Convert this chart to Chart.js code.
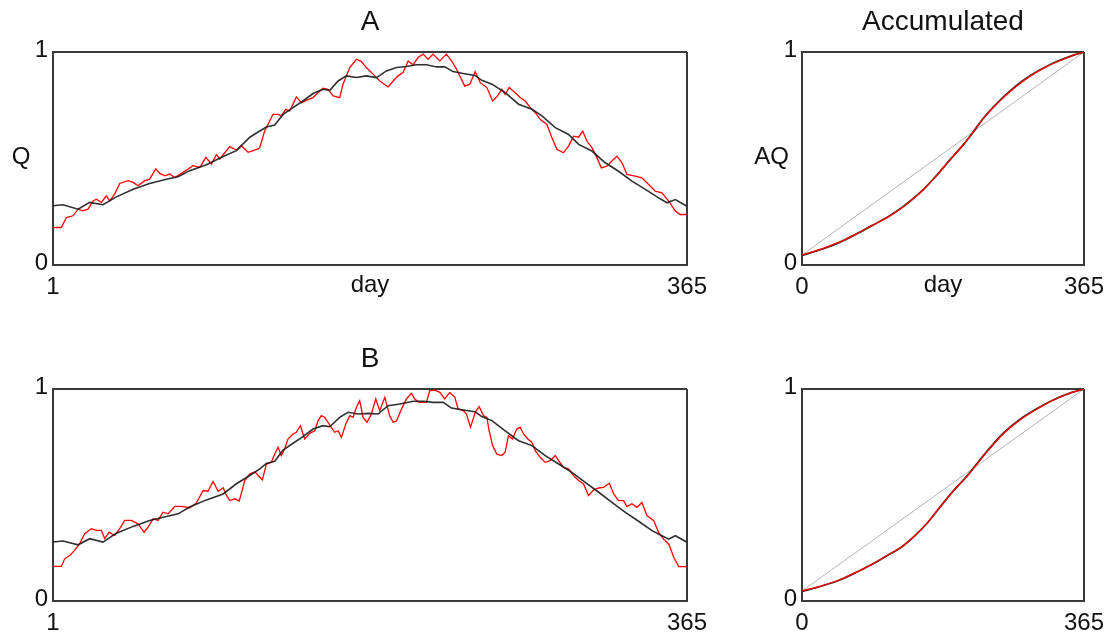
<!DOCTYPE html>
<html><head><meta charset="utf-8">
<script src="https://cdn.jsdelivr.net/npm/chart.js@4/dist/chart.umd.min.js"></script>
<style>
html,body{margin:0;padding:0;background:#fff;overflow:hidden;width:1112px;height:633px;}
canvas{position:absolute;}
</style></head><body>
<canvas id="cA" width="740" height="320" style="left:0;top:0"></canvas>
<canvas id="cAcc" width="372" height="320" style="left:740px;top:0"></canvas>
<canvas id="cB" width="740" height="303" style="left:0;top:330px"></canvas>
<canvas id="cBcc" width="372" height="303" style="left:740px;top:330px"></canvas>
<script>
// ---------- data ----------
const xTicksDay = [1, 365];
const xTicksAcc = [0, 365];
const yTicks = [0, 1];

const aRedDays = [1,5.8,8.7,12.5,15.4,18.2,21.1,24,25.9,28.8,31.6,33.6,36.4,39.3,44.1,47,49.8,53.7,56.5,60,62.3,65.2,68,70.9,75.7,81.4,85.3,88.7,92,94.8,96.8,102.5,106.3,109.2,113,118.8,
 119.7,122.5,124.4,127.3,130.2,132.1,134.6,136.9,140.7,143.6,146.5,150.3,153.2,156,158.9,161.8,165.6,167.5,171.4,175.2,178.1,180.9,184.8,188.6,193.4,196.3,199.1,202,204.9,207.7,210.6,213.5,216.4,219.2,223.1,226.9,229.8,232.7,235.5,237.4,240.3,
 243.4,246.3,250.1,253.4,255.8,258.7,260.6,262.9,266.4,269.2,272.1,275,277.9,280.7,284.6,287.4,290.3,294.1,297,299.9,302.8,305.1,307.5,310.4,313.3,315.8,319,321.9,324.8,327.7,330.5,335.3,339.1,343,346.8,350.6,354.5,358.3,361,365];
const aRedQ = [0.176,0.176,0.223,0.231,0.262,0.254,0.262,0.301,0.309,0.294,0.325,0.301,0.333,0.383,0.396,0.388,0.372,0.396,0.403,0.451,0.43,0.419,0.427,0.411,0.435,0.466,0.458,0.505,0.474,0.518,0.498,0.556,0.54,0.56,0.529,0.545,
 0.551,0.629,0.66,0.707,0.707,0.70,0.731,0.723,0.789,0.762,0.773,0.786,0.809,0.83,0.825,0.794,0.786,0.849,0.927,0.966,0.955,0.927,0.896,0.864,0.836,0.864,0.888,0.904,0.958,0.94,0.974,0.99,0.966,0.99,0.958,0.99,0.958,0.919,0.872,0.84,0.849,
 0.908,0.856,0.833,0.77,0.789,0.825,0.80,0.833,0.809,0.786,0.77,0.739,0.715,0.684,0.66,0.598,0.543,0.527,0.558,0.605,0.60,0.629,0.582,0.551,0.504,0.456,0.464,0.488,0.511,0.48,0.425,0.417,0.409,0.378,0.347,0.339,0.30,0.253,0.237,0.237];

const aBlackDays = [1,6.7,15.4,22.1,29.7,37.4,47,56.5,66.1,72.8,79.5,89.1,98.7,106.3,114,119.7,123.5,128.3,133.1,138.8,144.5,150.3,156,159.9,164.7,169.4,175.2,180.9,186.7,192.4,198.2,203.9,209.7,215.4,221.2,225.9,230.7,236.5,243.2,247.2,253,260.6,268.3,276,281.7,289.4,297,302.8,310.4,318.1,325.7,333.4,341.1,348.7,353.5,358.3,365];
const aBlackQ = [0.278,0.283,0.262,0.294,0.283,0.32,0.356,0.383,0.403,0.414,0.443,0.471,0.509,0.537,0.60,0.629,0.648,0.657,0.707,0.739,0.77,0.805,0.825,0.82,0.864,0.888,0.88,0.888,0.88,0.911,0.927,0.932,0.94,0.94,0.93,0.93,0.908,0.899,0.89,0.867,0.849,0.809,0.755,0.731,0.70,0.645,0.613,0.566,0.535,0.48,0.44,0.394,0.355,0.315,0.292,0.307,0.276];

const bRedDays = [1,5.8,7.7,10.6,13.4,16.3,19.2,23,25.9,28.8,30.7,33.2,36.4,39.3,42.2,46,49.8,53.3,55.6,58.5,61.3,64.2,67.1,70.9,74.7,79.5,83.3,87.2,90,92.9,95.8,98.7,100.6,102.5,105.4,107.9,111.1,114,116.9,
 119.7,121.2,123.5,126.4,128.3,130.2,132.1,134,135.9,138.8,140.7,143,145.5,148.4,151.3,153.2,155.1,157,158.9,160.8,162.7,164.7,166.6,169.1,171.4,173.3,175.2,177.1,179,181.3,183.8,186.3,188.6,191.5,194.3,196.3,198.2,201.1,203.9,206.8,208.7,211.2,213.5,215.4,217.3,220.2,223.1,225.9,228.8,231.7,233.6,236.5,238.4,240.7,
 243.4,245.7,248.2,250.1,251.4,253.4,255.8,258.7,260.6,262.5,264.8,267.3,269.2,271.2,273.6,276,277.9,280.7,283.6,286.5,289.4,291.3,294.1,297,299.9,302.8,305.6,308.5,311.4,314.3,317.1,320.4,322.9,325.7,328.6,330.5,333.4,336.3,339.1,342,345.9,348.7,351.6,354.5,357.4,360.2,365];
const bRedQ = [0.163,0.163,0.199,0.215,0.239,0.27,0.317,0.341,0.333,0.333,0.294,0.325,0.309,0.341,0.38,0.38,0.364,0.325,0.349,0.388,0.38,0.419,0.411,0.446,0.446,0.44,0.462,0.521,0.518,0.564,0.518,0.534,0.498,0.474,0.482,0.471,0.568,0.60,0.608,
 0.585,0.571,0.646,0.654,0.693,0.725,0.686,0.717,0.764,0.788,0.796,0.827,0.764,0.791,0.803,0.851,0.874,0.866,0.843,0.819,0.796,0.803,0.772,0.835,0.874,0.866,0.914,0.945,0.866,0.843,0.882,0.953,0.898,0.961,0.874,0.843,0.849,0.906,0.953,0.98,0.953,0.937,0.937,0.937,0.992,0.995,0.984,0.953,0.984,0.961,0.906,0.898,0.882,0.819,
 0.89,0.917,0.874,0.866,0.803,0.733,0.693,0.686,0.702,0.78,0.764,0.811,0.819,0.788,0.764,0.748,0.709,0.678,0.654,0.662,0.686,0.662,0.63,0.623,0.591,0.568,0.552,0.497,0.524,0.533,0.536,0.555,0.505,0.473,0.473,0.445,0.459,0.442,0.465,0.403,0.379,0.324,0.292,0.269,0.206,0.162,0.162];

const bBlackDays = [1,6.7,15.4,22.1,29.7,37.4,47,56.5,66.1,72.8,79.5,89.1,98.7,106.3,114,119.7,123.5,128.3,133.1,138.8,144.5,150.3,156,159.9,165.6,170.4,176.2,181.9,187.6,193.4,200.1,207.8,213.5,219.2,225,229.8,236.5,243.2,247.2,253,260.6,268.3,276,283.6,291.3,298.9,306.6,314.3,321.9,329.6,337.2,344.9,350.6,354.5,358.3,365];
const bBlackQ = [0.278,0.283,0.265,0.294,0.278,0.32,0.352,0.38,0.399,0.411,0.443,0.477,0.505,0.553,0.592,0.623,0.649,0.659,0.712,0.744,0.775,0.811,0.827,0.822,0.866,0.89,0.882,0.885,0.882,0.921,0.929,0.942,0.942,0.937,0.937,0.91,0.901,0.893,0.87,0.851,0.803,0.756,0.733,0.686,0.646,0.607,0.56,0.513,0.465,0.418,0.376,0.332,0.308,0.292,0.308,0.277];

const accADays = [0,26.7,48,69.2,90.4,111.6,124.4,141.3,158.3,175.3,192.3,209.2,222,234.7,251.7,268.6,285.6,302.6,319.6,336.6,353.5,365];
const accARed = [0.047,0.077,0.107,0.144,0.185,0.226,0.256,0.303,0.358,0.424,0.497,0.567,0.626,0.688,0.755,0.812,0.862,0.903,0.937,0.964,0.988,1.0];
const accABlack = [0.045,0.075,0.105,0.143,0.185,0.227,0.257,0.304,0.359,0.425,0.497,0.566,0.626,0.689,0.757,0.815,0.865,0.905,0.938,0.965,0.988,1.0];

const accBDays = [0,26.7,48,69.2,90.4,111.6,128.6,145.6,162.5,179.5,196.5,213.5,226.2,243.2,260.2,281.4,302.6,323.8,345,365];
const accBRed = [0.047,0.073,0.099,0.134,0.173,0.218,0.255,0.307,0.37,0.447,0.522,0.588,0.645,0.72,0.788,0.852,0.902,0.945,0.978,1.0];
const accBBlack = [0.045,0.072,0.098,0.133,0.172,0.217,0.254,0.306,0.369,0.447,0.522,0.589,0.647,0.722,0.79,0.855,0.904,0.946,0.978,1.0];

const diagDays = [0, 365];
const diagA = [0.047, 1];
const diagB = [0.047, 1];

// ---------- helpers ----------
const FONT = '"Liberation Sans", Arial, Helvetica, sans-serif';
const INK = '#111';
const FRAME = '#3a3a3a';
const zip = (xs, ys) => xs.map((x, i) => ({x, y: ys[i]}));

const panelText = {
  id: 'panelText',
  afterDraw(chart, args, opts) {
    const {ctx, chartArea: a} = chart;
    ctx.save();
    ctx.fillStyle = INK;
    ctx.textAlign = 'center';
    ctx.textBaseline = 'alphabetic';
    (opts.items || []).forEach(it => {
      ctx.font = it.size + 'px ' + FONT;
      let x, y;
      if (it.role === 'title') { x = (a.left + a.right) / 2; y = a.top - 22; }
      else if (it.role === 'xlabel') { x = (a.left + a.right) / 2; y = a.bottom + 27; }
      else { x = it.x; y = (a.top + a.bottom) / 2 + 5; }
      ctx.fillText(it.text, x, y);
    });
    ctx.restore();
  }
};

function makeChart(id, datasets, xMin, xMax, xTicks, pad, yWidth, xHeight, texts) {
  return new Chart(document.getElementById(id), {
    type: 'line',
    data: { datasets },
    plugins: [panelText],
    options: {
      responsive: false,
      animation: false,
      events: [],
      layout: { padding: pad },
      elements: { point: { radius: 0 }, line: { tension: 0 } },
      plugins: { legend: { display: false }, tooltip: { enabled: false }, panelText: { items: texts } },
      scales: {
        x: {
          type: 'linear', min: xMin, max: xMax,
          afterBuildTicks: s => { s.ticks = xTicks.map(v => ({value: v})); },
          afterFit: s => { s.height = xHeight; },
          grid: { color: FRAME, lineWidth: 2, drawTicks: false },
          border: { display: true, color: FRAME, width: 2 },
          ticks: { padding: 8, color: INK, font: { family: FONT, size: 24 }, maxRotation: 0, autoSkip: false, callback: v => String(v) }
        },
        y: {
          type: 'linear', min: 0, max: 1,
          afterBuildTicks: s => { s.ticks = yTicks.map(v => ({value: v})); },
          afterFit: s => { s.width = yWidth; },
          grid: { color: FRAME, lineWidth: 2, drawTicks: false },
          border: { display: true, color: FRAME, width: 2 },
          ticks: { padding: 5, labelOffset: -2, color: INK, font: { family: FONT, size: 24 }, callback: v => String(v) }
        }
      }
    }
  });
}

const qSets = (blackD, blackV, redD, redV) => [
  { data: zip(blackD, blackV), borderColor: 'rgba(25,25,25,0.9)', borderWidth: 1.6 },
  { data: zip(redD, redV), borderColor: 'rgb(255,0,0)', borderWidth: 1.3 }
];
const accSets = (d, red, black, diag) => [
  { data: zip(d, red), borderColor: 'rgb(255,0,0)', borderWidth: 1.3, cubicInterpolationMode: 'monotone' },
  { data: zip(d, black), borderColor: 'rgba(20,20,20,0.9)', borderWidth: 1.8, cubicInterpolationMode: 'monotone' },
  { data: zip(diagDays, diag), borderColor: '#b4b4b4', borderWidth: 1 }
];

makeChart('cA', qSets(aBlackDays, aBlackQ, aRedDays, aRedQ), 1, 365, xTicksDay,
  {left: 0, top: 52, right: 53, bottom: 0}, 53, 55,
  [{role: 'title', text: 'A', size: 28}, {role: 'ylabel', text: 'Q', size: 24, x: 21}, {role: 'xlabel', text: 'day', size: 24}]);

makeChart('cAcc', accSets(accADays, accARed, accABlack, diagA), 0, 365, xTicksAcc,
  {left: 0, top: 52, right: 23, bottom: 0}, 62, 55,
  [{role: 'title', text: 'Accumulated', size: 28}, {role: 'ylabel', text: 'AQ', size: 24, x: 31.5}, {role: 'xlabel', text: 'day', size: 24}]);

makeChart('cB', qSets(bBlackDays, bBlackQ, bRedDays, bRedQ), 1, 365, xTicksDay,
  {left: 0, top: 59, right: 53, bottom: 0}, 53, 32,
  [{role: 'title', text: 'B', size: 28}]);

makeChart('cBcc', accSets(accBDays, accBRed, accBBlack, diagB), 0, 365, xTicksAcc,
  {left: 0, top: 59, right: 23, bottom: 0}, 62, 32,
  []);
</script>
</body></html>
